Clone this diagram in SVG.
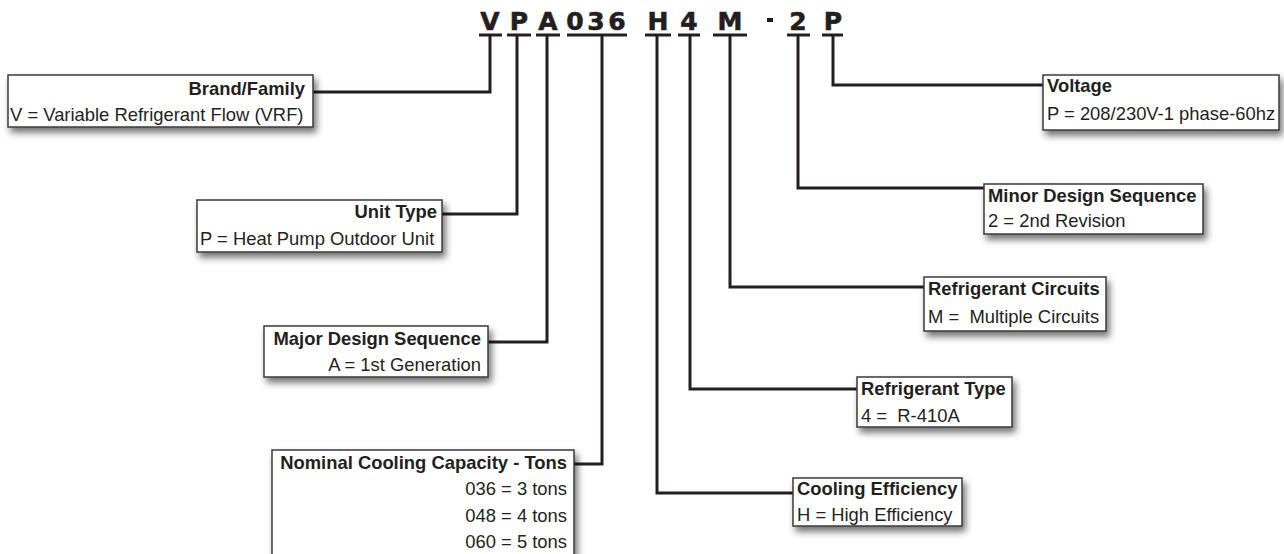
<svg xmlns="http://www.w3.org/2000/svg" width="1284" height="554" viewBox="0 0 1284 554">
<style>
.code{font-family:"DejaVu Sans",sans-serif;font-weight:bold;font-size:25px;fill:#231f20;text-anchor:middle;stroke:#231f20;stroke-width:0.6}
.box{fill:#fff;stroke:#3a3a3a;stroke-width:1.5;filter:url(#sh)}
.t{font-family:"Liberation Sans",Arial,sans-serif;font-size:18.4px;fill:#231f20;white-space:pre}
.b{font-weight:bold}
.r{text-anchor:end}
.conn{fill:none;stroke:#231f20;stroke-width:3}
</style>
<defs>
<filter id="sh" x="-10%" y="-20%" width="130%" height="170%">
<feDropShadow dx="3" dy="5" stdDeviation="3.5" flood-color="#000" flood-opacity="0.55"/>
</filter>
</defs>
<rect width="1284" height="554" fill="#fff"/>
<g id="code">
<text class="code" x="490" y="30">V</text>
<text class="code" x="519" y="30">P</text>
<text class="code" x="548" y="30">A</text>
<text class="code" x="575" y="30">0</text>
<text class="code" x="596" y="30">3</text>
<text class="code" x="617" y="30">6</text>
<text class="code" x="658" y="30">H</text>
<text class="code" x="689" y="30">4</text>
<text class="code" x="730" y="30">M</text>
<rect x="767" y="18" width="6" height="4" fill="#231f20"/>
<text class="code" x="798" y="30">2</text>
<text class="code" x="833" y="30">P</text>
</g>
<g id="connectors" class="conn">
<path d="M479,35H502M507,35H531M536,35H560M567,35H627M645,35H671M678,35H700M713,35H747M787,35H810M822,35H843"/>
<path d="M490,35V92H313"/>
<path d="M517,35V214H442"/>
<path d="M547,35V342H488"/>
<path d="M602,35V464H574"/>
<path d="M657,35V493H793"/>
<path d="M690,35V389H857"/>
<path d="M730,35V287H924"/>
<path d="M798,35V188H984"/>
<path d="M833,35V85H1043"/>
</g>
<g id="brand">
<rect class="box" x="8" y="75" width="305" height="52"/>
<text class="t b r" x="305" y="95">Brand/Family</text>
<text class="t" x="10" y="121">V = Variable Refrigerant Flow (VRF)</text>
</g>
<g id="unit-type">
<rect class="box" x="197" y="200" width="245" height="52"/>
<text class="t b r" x="437" y="218">Unit Type</text>
<text class="t" x="200" y="245">P = Heat Pump Outdoor Unit</text>
</g>
<g id="major">
<rect class="box" x="264" y="326" width="224" height="51"/>
<text class="t b r" x="481" y="345">Major Design Sequence</text>
<text class="t r" x="481" y="371">A = 1st Generation</text>
</g>
<g id="capacity">
<rect class="box" x="272" y="450" width="302" height="120"/>
<text class="t b r" x="567" y="469">Nominal Cooling Capacity - Tons</text>
<text class="t r" x="567" y="495">036 = 3 tons</text>
<text class="t r" x="567" y="522">048 = 4 tons</text>
<text class="t r" x="567" y="548">060 = 5 tons</text>
</g>
<g id="voltage">
<rect class="box" x="1043" y="75" width="236" height="55"/>
<text class="t b" x="1047" y="92">Voltage</text>
<text class="t" x="1047" y="120">P = 208/230V-1 phase-60hz</text>
</g>
<g id="minor">
<rect class="box" x="984" y="184" width="219" height="50"/>
<text class="t b" x="988" y="202">Minor Design Sequence</text>
<text class="t" x="988" y="227">2 = 2nd Revision</text>
</g>
<g id="circuits">
<rect class="box" x="924" y="277" width="182" height="54"/>
<text class="t b" x="928" y="295">Refrigerant Circuits</text>
<text class="t" x="928" y="323">M =  Multiple Circuits</text>
</g>
<g id="ref-type">
<rect class="box" x="857" y="377" width="155" height="50"/>
<text class="t b" x="861" y="395">Refrigerant Type</text>
<text class="t" x="861" y="422">4 =  R-410A</text>
</g>
<g id="efficiency">
<rect class="box" x="793" y="478" width="169" height="48"/>
<text class="t b" x="797" y="495">Cooling Efficiency</text>
<text class="t" x="797" y="521">H = High Efficiency</text>
</g>
</svg>
